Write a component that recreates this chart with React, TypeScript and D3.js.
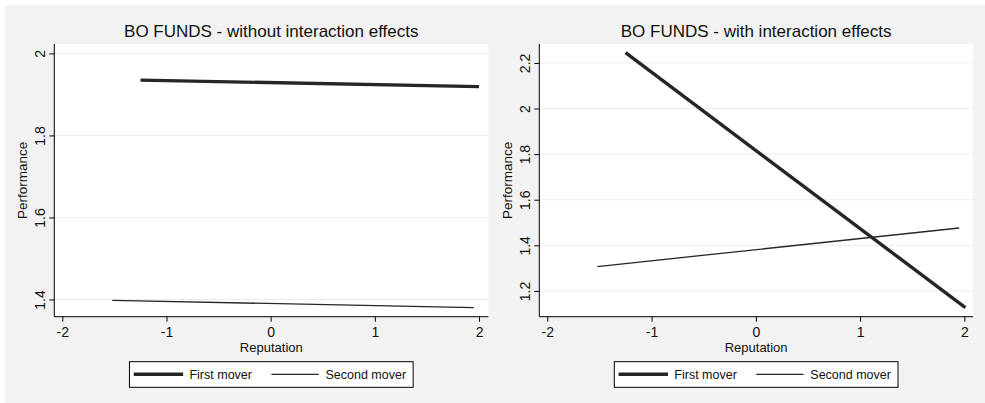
import React, { useEffect, useRef } from 'react';
import * as d3 from 'd3';

// x-axis tick labels (Reputation)
const reputationTicks = [-2, -1, 0, 1, 2];

// panel 1: without interaction effects
const leftTitle = 'BO FUNDS - without interaction effects';
const leftYTicks = [1.4, 1.6, 1.8, 2];
const leftFirstMover = [
  { x: -1.25, y: 1.935 },
  { x: 2.0, y: 1.919 },
];
const leftSecondMover = [
  { x: -1.52, y: 1.398 },
  { x: 1.95, y: 1.38 },
];

// panel 2: with interaction effects
const rightTitle = 'BO FUNDS - with interaction effects';
const rightYTicks = [1.2, 1.4, 1.6, 1.8, 2, 2.2];
const rightFirstMover = [
  { x: -1.25, y: 2.245 },
  { x: 2.01, y: 1.127 },
];
const rightSecondMover = [
  { x: -1.52, y: 1.307 },
  { x: 1.95, y: 1.476 },
];

const legendLabels = ['First mover', 'Second mover'];

interface Pt { x: number; y: number; }

interface PanelSpec {
  title: string;
  yTicks: number[];
  xDomain: [number, number];
  yDomain: [number, number];
  left: number;
  right: number;
  first: Pt[];
  second: Pt[];
}

const FONT = '"Liberation Sans", Arial, sans-serif';
const TOP = 44;
const BOTTOM = 316.7;
const INK = '#262626';

const panels: PanelSpec[] = [
  {
    title: leftTitle,
    yTicks: leftYTicks,
    xDomain: [-2.077, 2.089],
    yDomain: [1.358, 2.023],
    left: 54.3,
    right: 488.3,
    first: leftFirstMover,
    second: leftSecondMover,
  },
  {
    title: rightTitle,
    yTicks: rightYTicks,
    xDomain: [-2.077, 2.083],
    yDomain: [1.087, 2.283],
    left: 539.3,
    right: 973,
    first: rightFirstMover,
    second: rightSecondMover,
  },
];

// Stata-style labels use a plain hyphen for negatives
const fmt = (d: any) => String(d);

const App: React.FC = () => {
  const svgRef = useRef<SVGSVGElement>(null);

  useEffect(() => {
    document.body.style.margin = '0';
    if (!svgRef.current) return;
    const svg = d3.select(svgRef.current);
    svg.selectAll('*').remove();

    // page background
    svg.append('rect').attr('width', 985).attr('height', 403).attr('fill', '#fff');
    svg.append('rect')
      .attr('x', 5).attr('y', 5)
      .attr('width', 980).attr('height', 398)
      .attr('fill', '#f2f2f2');

    panels.forEach(p => {
      const x = d3.scaleLinear().domain(p.xDomain).range([p.left, p.right]);
      const y = d3.scaleLinear().domain(p.yDomain).range([BOTTOM, TOP]);
      const cx = (p.left + p.right) / 2;
      const g = svg.append('g');

      // plot region
      g.append('rect')
        .attr('x', p.left).attr('y', TOP)
        .attr('width', p.right - p.left).attr('height', BOTTOM - TOP)
        .attr('fill', '#fff');

      // grid
      g.selectAll('line.grid')
        .data(p.yTicks)
        .enter()
        .append('line')
        .attr('x1', p.left).attr('x2', p.right)
        .attr('y1', d => y(d)).attr('y2', d => y(d))
        .attr('stroke', '#ececec')
        .attr('stroke-width', 1);

      // title
      g.append('text')
        .attr('x', cx).attr('y', 37.3)
        .attr('text-anchor', 'middle')
        .style('font-family', FONT)
        .style('font-size', '17px')
        .attr('fill', '#111')
        .text(p.title);

      // y axis
      const yAxis = g.append('g').attr('transform', `translate(${p.left},0)`)
        .call(d3.axisLeft(y).tickValues(p.yTicks).tickSize(5).tickFormat(fmt));
      yAxis.select('.domain').attr('stroke', '#000').attr('d', `M0,${TOP}V${BOTTOM}`);
      yAxis.selectAll('.tick line').attr('stroke', '#000');
      yAxis.selectAll('.tick text')
        .attr('x', null).attr('dy', null)
        .attr('transform', 'translate(-9.5,0) rotate(-90)')
        .attr('text-anchor', 'middle')
        .attr('fill', '#111')
        .style('font-family', FONT)
        .style('font-size', '14px');

      g.append('text')
        .attr('transform', `translate(${p.left - 27},${(TOP + BOTTOM) / 2}) rotate(-90)`)
        .attr('text-anchor', 'middle')
        .style('font-family', FONT)
        .style('font-size', '13.5px')
        .attr('fill', '#111')
        .text('Performance');

      // x axis
      const xAxis = g.append('g').attr('transform', `translate(0,${BOTTOM})`)
        .call(d3.axisBottom(x).tickValues(reputationTicks).tickSize(5).tickFormat(fmt));
      xAxis.select('.domain').attr('stroke', '#000').attr('d', `M${p.left},0H${p.right}`);
      xAxis.selectAll('.tick line').attr('stroke', '#000');
      xAxis.selectAll('.tick text')
        .attr('y', 20.3).attr('dy', null)
        .attr('fill', '#111')
        .style('font-family', FONT)
        .style('font-size', '14px');

      g.append('text')
        .attr('x', cx).attr('y', 351.5)
        .attr('text-anchor', 'middle')
        .style('font-family', FONT)
        .style('font-size', '13px')
        .attr('fill', '#111')
        .text('Reputation');

      // lines
      const line = d3.line<Pt>().x(d => x(d.x)).y(d => y(d.y));
      g.append('path')
        .attr('d', line(p.second))
        .attr('fill', 'none')
        .attr('stroke', INK)
        .attr('stroke-width', 1.3);
      g.append('path')
        .attr('d', line(p.first))
        .attr('fill', 'none')
        .attr('stroke', INK)
        .attr('stroke-width', 3.4);

      // legend
      const lw = 283.7;
      const lg = g.append('g').attr('transform', `translate(${cx - lw / 2},361.7)`);
      lg.append('rect')
        .attr('width', lw).attr('height', 25.6)
        .attr('fill', '#fff')
        .attr('stroke', '#000')
        .attr('stroke-width', 1);
      const items = [
        { label: legendLabels[0], x0: 4.3, x1: 53.7, tx: 60, w: 3.4 },
        { label: legendLabels[1], x0: 142, x1: 189.3, tx: 196, w: 1.3 },
      ];
      items.forEach(it => {
        lg.append('line')
          .attr('x1', it.x0).attr('x2', it.x1)
          .attr('y1', 12.6).attr('y2', 12.6)
          .attr('stroke', INK)
          .attr('stroke-width', it.w);
        lg.append('text')
          .attr('x', it.tx).attr('y', 17.6)
          .style('font-family', FONT)
          .style('font-size', '12.5px')
          .attr('fill', '#111')
          .text(it.label);
      });
    });
  }, []);

  return (
    <svg
      ref={svgRef}
      width={985}
      height={403}
      style={{ position: 'absolute', left: 0, top: 0, display: 'block' }}
    />
  );
};

export default App;
